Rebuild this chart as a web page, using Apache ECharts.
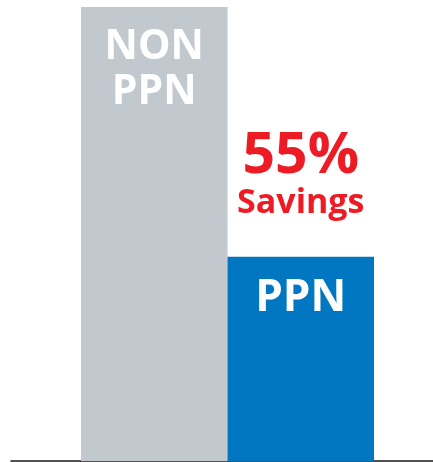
<!DOCTYPE html>
<html>
<head>
<meta charset="utf-8">
<script src="https://cdn.jsdelivr.net/npm/echarts@6/dist/echarts.min.js"></script>
<style>
  html, body { margin: 0; padding: 0; background: #fff; }
  #chart { width: 433px; height: 462px; }
</style>
</head>
<body>
<div id="chart"></div>
<script>
(function () {

    // data
    var categories = ['NON\nPPN', 'PPN'];
    var costs = [100, 45];
    var barColors = ['#c1c8ce', '#0077c0'];
    var labelSizes = [41, 44];

    var savings = Math.round((1 - costs[1] / costs[0]) * 100);

    var myChart = echarts.init(document.getElementById('chart'));

    var barData = [];
    for (var i = 0; i < costs.length; i++) {
        barData.push({
            value: costs[i],
            itemStyle: { color: barColors[i] },
            label: { fontSize: labelSizes[i], lineHeight: labelSizes[i] + 4 }
        });
    }

    var option = {
        animation: false,
        grid: [
            { left: 81, right: 59, top: 7, bottom: 1 },
            { left: 11, right: 0, top: 7, bottom: 1 }
        ],
        xAxis: [
            {
                type: 'category',
                gridIndex: 0,
                data: categories,
                axisLine: { show: false },
                axisTick: { show: false },
                axisLabel: { show: false }
            },
            {
                // the baseline under the bars
                type: 'value',
                gridIndex: 1,
                min: 0,
                max: 1,
                axisLine: { show: true, onZero: false, lineStyle: { color: '#1a1a1a', width: 1.5 } },
                axisTick: { show: false },
                axisLabel: { show: false },
                splitLine: { show: false }
            }
        ],
        yAxis: [
            { type: 'value', gridIndex: 0, min: 0, max: 100, show: false },
            { type: 'value', gridIndex: 1, min: 0, max: 1, show: false }
        ],
        series: [
            {
                type: 'bar',
                xAxisIndex: 0,
                yAxisIndex: 0,
                barWidth: '100%',
                data: barData,
                label: {
                    show: true,
                    position: 'insideTop',
                    distance: 18,
                    formatter: '{b}',
                    color: '#fff',
                    fontFamily: 'Open Sans',
                    fontWeight: 'bold'
                }
            },
            {
                // savings note above the PPN bar
                type: 'scatter',
                xAxisIndex: 0,
                yAxisIndex: 0,
                symbolSize: 0,
                itemStyle: { opacity: 1 },
                data: [[categories[1], costs[1]]],
                label: {
                    show: true,
                    opacity: 1,
                    position: 'top',
                    distance: 34,
                    formatter: '{a|' + savings + '%}\n{b|Savings}',
                    rich: {
                        a: {
                            color: '#ed1c24',
                            fontFamily: 'Open Sans',
                            fontWeight: 'bold',
                            fontSize: 57,
                            lineHeight: 56,
                            align: 'center'
                        },
                        b: {
                            color: '#ed1c24',
                            fontFamily: 'Open Sans',
                            fontWeight: 'bold',
                            fontSize: 34,
                            lineHeight: 38,
                            align: 'center'
                        }
                    }
                }
            }
        ]
    };

    myChart.setOption(option);

}());
</script>
</body>
</html>
